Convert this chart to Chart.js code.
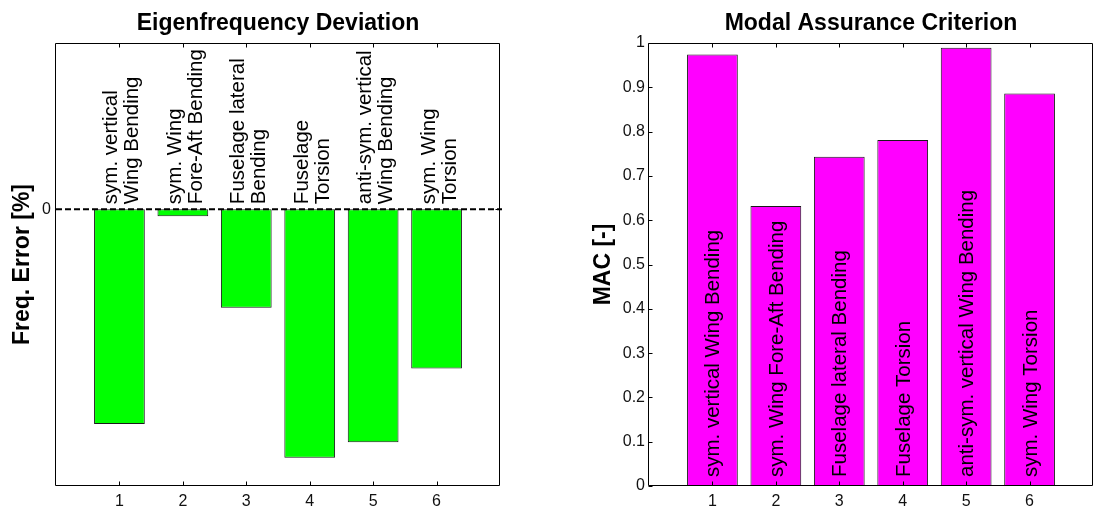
<!DOCTYPE html>
<html><head><meta charset="utf-8">
<script src="https://cdn.jsdelivr.net/npm/chart.js@4.4.1/dist/chart.umd.min.js"></script>
<style>
html,body{margin:0;padding:0;background:#fff;width:1093px;height:506px;overflow:hidden}
#wrapL{position:absolute;left:0;top:0;width:546px;height:506px}
#wrapR{position:absolute;left:546px;top:0;width:547px;height:506px}
</style></head><body>
<div id="wrapL"><canvas id="left"></canvas></div>
<div id="wrapR"><canvas id="right"></canvas></div>
<script>
// ---- data ----
const modeNumbers = [1, 2, 3, 4, 5, 6];
const freqLabelLines = [
  ["sym. vertical", "Wing Bending"],
  ["sym. Wing", "Fore-Aft Bending"],
  ["Fuselage lateral", "Bending"],
  ["Fuselage", "Torsion"],
  ["anti-sym. vertical", "Wing Bending"],
  ["sym. Wing", "Torsion"]
];
const macLabels = [
  "sym. vertical Wing Bending",
  "sym. Wing Fore-Aft Bending",
  "Fuselage lateral Bending",
  "Fuselage Torsion",
  "anti-sym. vertical Wing Bending",
  "sym. Wing Torsion"
];
const freqErrors = [-3.88, -0.13, -1.78, -4.49, -4.21, -2.88];
const macValues = [0.974, 0.632, 0.743, 0.781, 0.989, 0.886];
const freqYTicks = [0];
const macYTicks = [0, 0.1, 0.2, 0.3, 0.4, 0.5, 0.6, 0.7, 0.8, 0.9, 1];
const xTickValues = [1, 2, 3, 4, 5, 6];

// ---- style ----
const FAM = '"Liberation Sans", Arial, Helvetica, sans-serif';
const tickFont = {family: FAM, size: 16};
const titleFont = {family: FAM, size: 23, weight: 'bold'};
const labelFontPx = 20.5;
const TICK_LEN = 4;

function framePlugin(kind) {
  return {
    id: 'frame_' + kind,
    afterDatasetsDraw(chart) {
      const {ctx, chartArea: a, scales: {x, y}} = chart;
      const isFreq = kind === 'freq';
      ctx.save();
      ctx.fillStyle = '#000';
      ctx.font = labelFontPx + 'px ' + FAM;
      ctx.textAlign = 'left';
      ctx.textBaseline = 'alphabetic';
      const y0 = y.getPixelForValue(0);
      if (isFreq) {
        freqLabelLines.forEach((lines, i) => {
          const px = x.getPixelForValue(modeNumbers[i]);
          ctx.save();
          ctx.translate(px, y0 - 5);
          ctx.rotate(-Math.PI / 2);
          lines.forEach((t, j) => ctx.fillText(t, 0, -2 + j * 21));
          ctx.restore();
        });
        ctx.strokeStyle = '#000';
        ctx.lineWidth = 2;
        ctx.setLineDash([6, 3]);
        ctx.beginPath();
        ctx.moveTo(a.left, y0);
        ctx.lineTo(a.right + 2, y0);
        ctx.stroke();
        ctx.setLineDash([]);
      } else {
        macLabels.forEach((t, i) => {
          const px = x.getPixelForValue(modeNumbers[i]);
          ctx.save();
          ctx.translate(px, y0 - 9);
          ctx.rotate(-Math.PI / 2);
          ctx.fillText(t, 0, 7);
          ctx.restore();
        });
      }
      ctx.strokeStyle = '#000';
      ctx.lineWidth = 1;
      const L = Math.round(a.left) - 0.5, R = Math.round(a.right) - 0.5;
      const T = Math.round(a.top) + 0.5, B = Math.round(a.bottom) - 0.5;
      ctx.beginPath();
      ctx.moveTo(L, T); ctx.lineTo(R, T); ctx.lineTo(R, B); ctx.lineTo(L, B); ctx.closePath();
      ctx.stroke();
      ctx.beginPath();
      xTickValues.forEach(v => {
        const px = Math.round(x.getPixelForValue(v)) + 0.5;
        ctx.moveTo(px, B); ctx.lineTo(px, B - TICK_LEN);
        ctx.moveTo(px, T); ctx.lineTo(px, T + TICK_LEN);
      });
      const yt = isFreq ? freqYTicks : macYTicks;
      yt.forEach(v => {
        const py = Math.round(y.getPixelForValue(v)) + 0.5;
        ctx.moveTo(L, py); ctx.lineTo(L + TICK_LEN, py);
        if (isFreq) { ctx.moveTo(R, py); ctx.lineTo(R - TICK_LEN, py); }
      });
      ctx.stroke();
      ctx.restore();
    }
  };
}

function makeChart(id, kind) {
  const isFreq = kind === 'freq';
  const vals = isFreq ? freqErrors : macValues;
  return new Chart(document.getElementById(id), {
    type: 'bar',
    data: {
      datasets: [{
        data: modeNumbers.map((m, i) => ({x: m, y: vals[i]})),
        backgroundColor: isFreq ? '#00ff00' : '#ff00ff',
        borderColor: '#1a1a1a',
        borderWidth: 1,
        borderSkipped: false,
        barPercentage: 0.8,
        categoryPercentage: 1
      }]
    },
    options: {
      responsive: true,
      maintainAspectRatio: false,
      animation: false,
      devicePixelRatio: 1,
      layout: {padding: {left: 0, right: isFreq ? 46 : -1, top: 0, bottom: 0}},
      plugins: {
        legend: {display: false},
        tooltip: {enabled: false},
        title: {
          display: true,
          text: isFreq ? 'Eigenfrequency Deviation' : 'Modal Assurance Criterion',
          font: titleFont, color: '#000',
          padding: {top: 10, bottom: 5.4},
          fullSize: false
        }
      },
      scales: {
        x: {
          type: 'linear', min: 0, max: 7, offset: false,
          grid: {display: false, drawTicks: false}, border: {display: false},
          ticks: {
            stepSize: 1, padding: 6, font: tickFont, color: '#111',
            maxRotation: 0, autoSkip: false,
            callback: (v) => xTickValues.includes(v) ? String(v) : ''
          },
          afterFit: (s) => { s.height = 20; s.paddingLeft = 0; s.paddingRight = 0; }
        },
        y: {
          min: isFreq ? -5 : 0, max: isFreq ? 3 : 1,
          grid: {display: false, drawTicks: false}, border: {display: false},
          afterBuildTicks: (s) => { s.ticks = (isFreq ? freqYTicks : macYTicks).map(v => ({value: v})); },
          ticks: {
            padding: isFreq ? 5 : 4, font: tickFont, color: '#111',
            callback: (v) => String(Math.round(v * 10) / 10)
          },
          title: {
            display: true,
            text: isFreq ? 'Freq. Error [%]' : 'MAC [-]',
            font: titleFont, color: '#000',
            padding: {top: isFreq ? 9 : 44, bottom: 0}
          },
          afterFit: (s) => { s.width = isFreq ? 56 : 103; s.paddingTop = 0; s.paddingBottom = 0; }
        }
      }
    },
    plugins: [framePlugin(kind)]
  });
}

makeChart('left', 'freq');
makeChart('right', 'mac');
</script>
</body></html>
